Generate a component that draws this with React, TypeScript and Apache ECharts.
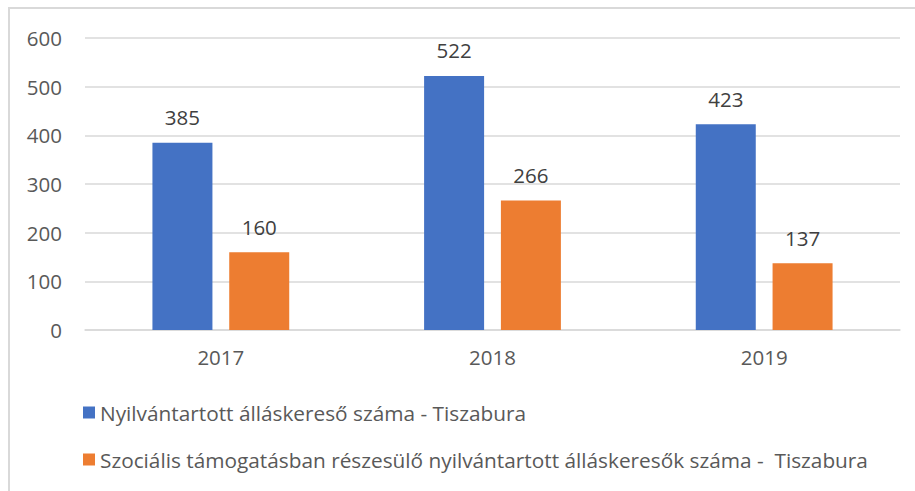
import React, { useEffect, useRef } from "react";
import * as echarts from "echarts";

const categories = ["2017", "2018", "2019"];
const seriesNames = [
  "Nyilvántartott álláskereső száma - Tiszabura",
  "Szociális támogatásban részesülő nyilvántartott álláskeresők száma -  Tiszabura",
];
const registered = [385, 522, 423];
const social = [160, 266, 137];
const yTicks = { min: 0, max: 600, interval: 100 };

export default function App() {
  const ref = useRef<HTMLDivElement>(null);
  useEffect(() => {
    document.body.style.margin = "0";
    const chart = echarts.init(ref.current!, null, { renderer: "svg" });
    const font = "'Open Sans', 'Liberation Sans', sans-serif";
    chart.setOption({
      animation: false,
      textStyle: { fontFamily: font },
      graphic: [
        {
          type: "rect",
          shape: { x: 9, y: 8, width: 920, height: 500 },
          style: { fill: "none", stroke: "#d9d9d9", lineWidth: 2 },
          silent: true,
        },
      ],
      grid: { left: 85, right: 15, top: 38, bottom: 161, containLabel: false },
      legend: {
        orient: "vertical",
        left: 78,
        top: 397,
        itemWidth: 12,
        itemHeight: 12,
        itemGap: 26,
        icon: "rect",
        textStyle: { color: "#595959", fontSize: 20.8, fontFamily: font },
        data: seriesNames,
      },
      xAxis: {
        type: "category",
        data: categories,
        axisLine: { lineStyle: { color: "#d9d9d9", width: 1.5 } },
        axisTick: { show: false },
        axisLabel: { color: "#595959", fontSize: 20.5, margin: 16 },
      },
      yAxis: {
        type: "value",
        min: yTicks.min,
        max: yTicks.max,
        interval: yTicks.interval,
        axisLine: { show: false },
        axisTick: { show: false },
        splitLine: { lineStyle: { color: "#d9d9d9", width: 1.5 } },
        axisLabel: { color: "#595959", fontSize: 20.5, margin: 23, align: "right" },
      },
      series: [
        {
          name: seriesNames[0],
          type: "bar",
          data: registered,
          barWidth: 60,
          barGap: "28%",
          itemStyle: { color: "#4472c4" },
          label: { show: true, position: "top", distance: 15, color: "#404040", fontSize: 20.5 },
        },
        {
          name: seriesNames[1],
          type: "bar",
          data: social,
          barWidth: 60,
          barGap: "28%",
          itemStyle: { color: "#ed7d31" },
          label: { show: true, position: "top", distance: 15, color: "#404040", fontSize: 20.5 },
        },
      ],
    });
    return () => chart.dispose();
  }, []);
  return <div ref={ref} style={{ width: 915, height: 491 }} />;
}
